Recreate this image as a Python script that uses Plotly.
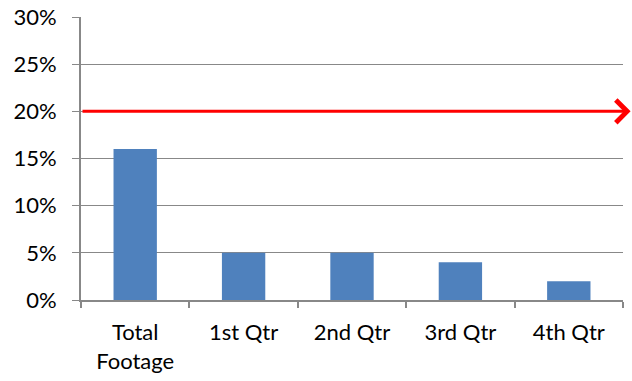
import plotly.graph_objects as go

# Share of footage by period
categories = ["Total<br>Footage", "1st Qtr", "2nd Qtr", "3rd Qtr", "4th Qtr"]
shares = [0.16, 0.05, 0.05, 0.04, 0.02]
target_share = 0.20

y_ticks = [0, 0.05, 0.10, 0.15, 0.20, 0.25, 0.30]
y_tick_labels = ["0%", "5%", "10%", "15%", "20%", "25%", "30%"]

bar_color = "#4F81BD"
grid_color = "#888888"
font = dict(family="Lato, Calibri, sans-serif", size=22, color="#000000")

fig = go.Figure(
    go.Bar(
        x=categories,
        y=shares,
        marker=dict(color=bar_color, line=dict(width=0)),
        width=0.4,
    )
)

# Target line drawn as an arrow across the plot
fig.add_annotation(
    x=1.014, y=target_share, xref="x domain", yref="y",
    ax=0, ay=target_share, axref="x domain", ayref="y",
    text="", showarrow=True,
    arrowhead=4, arrowsize=1.45, arrowwidth=3, arrowcolor="#FF0000",
)

fig.update_layout(
    width=632, height=381,
    margin=dict(l=81, r=9, t=17, b=81),
    paper_bgcolor="white", plot_bgcolor="white",
    font=font,
    showlegend=False,
)
fig.update_xaxes(
    showline=True, linecolor=grid_color, linewidth=2,
    ticks="outside", tickson="boundaries", ticklen=6,
    tickcolor=grid_color, tickwidth=2,
    showgrid=False, tickfont=font,
    ticklabelstandoff=12, automargin=False,
)
fig.update_yaxes(
    range=[0, 0.30], tickvals=y_ticks, ticktext=y_tick_labels,
    showline=True, linecolor=grid_color, linewidth=2,
    ticks="outside", ticklen=7, tickcolor=grid_color, tickwidth=1,
    showgrid=True, gridcolor=grid_color, gridwidth=1,
    zeroline=False, tickfont=font,
    ticklabelstandoff=11, automargin=False,
)

fig.write_html("out.html")
